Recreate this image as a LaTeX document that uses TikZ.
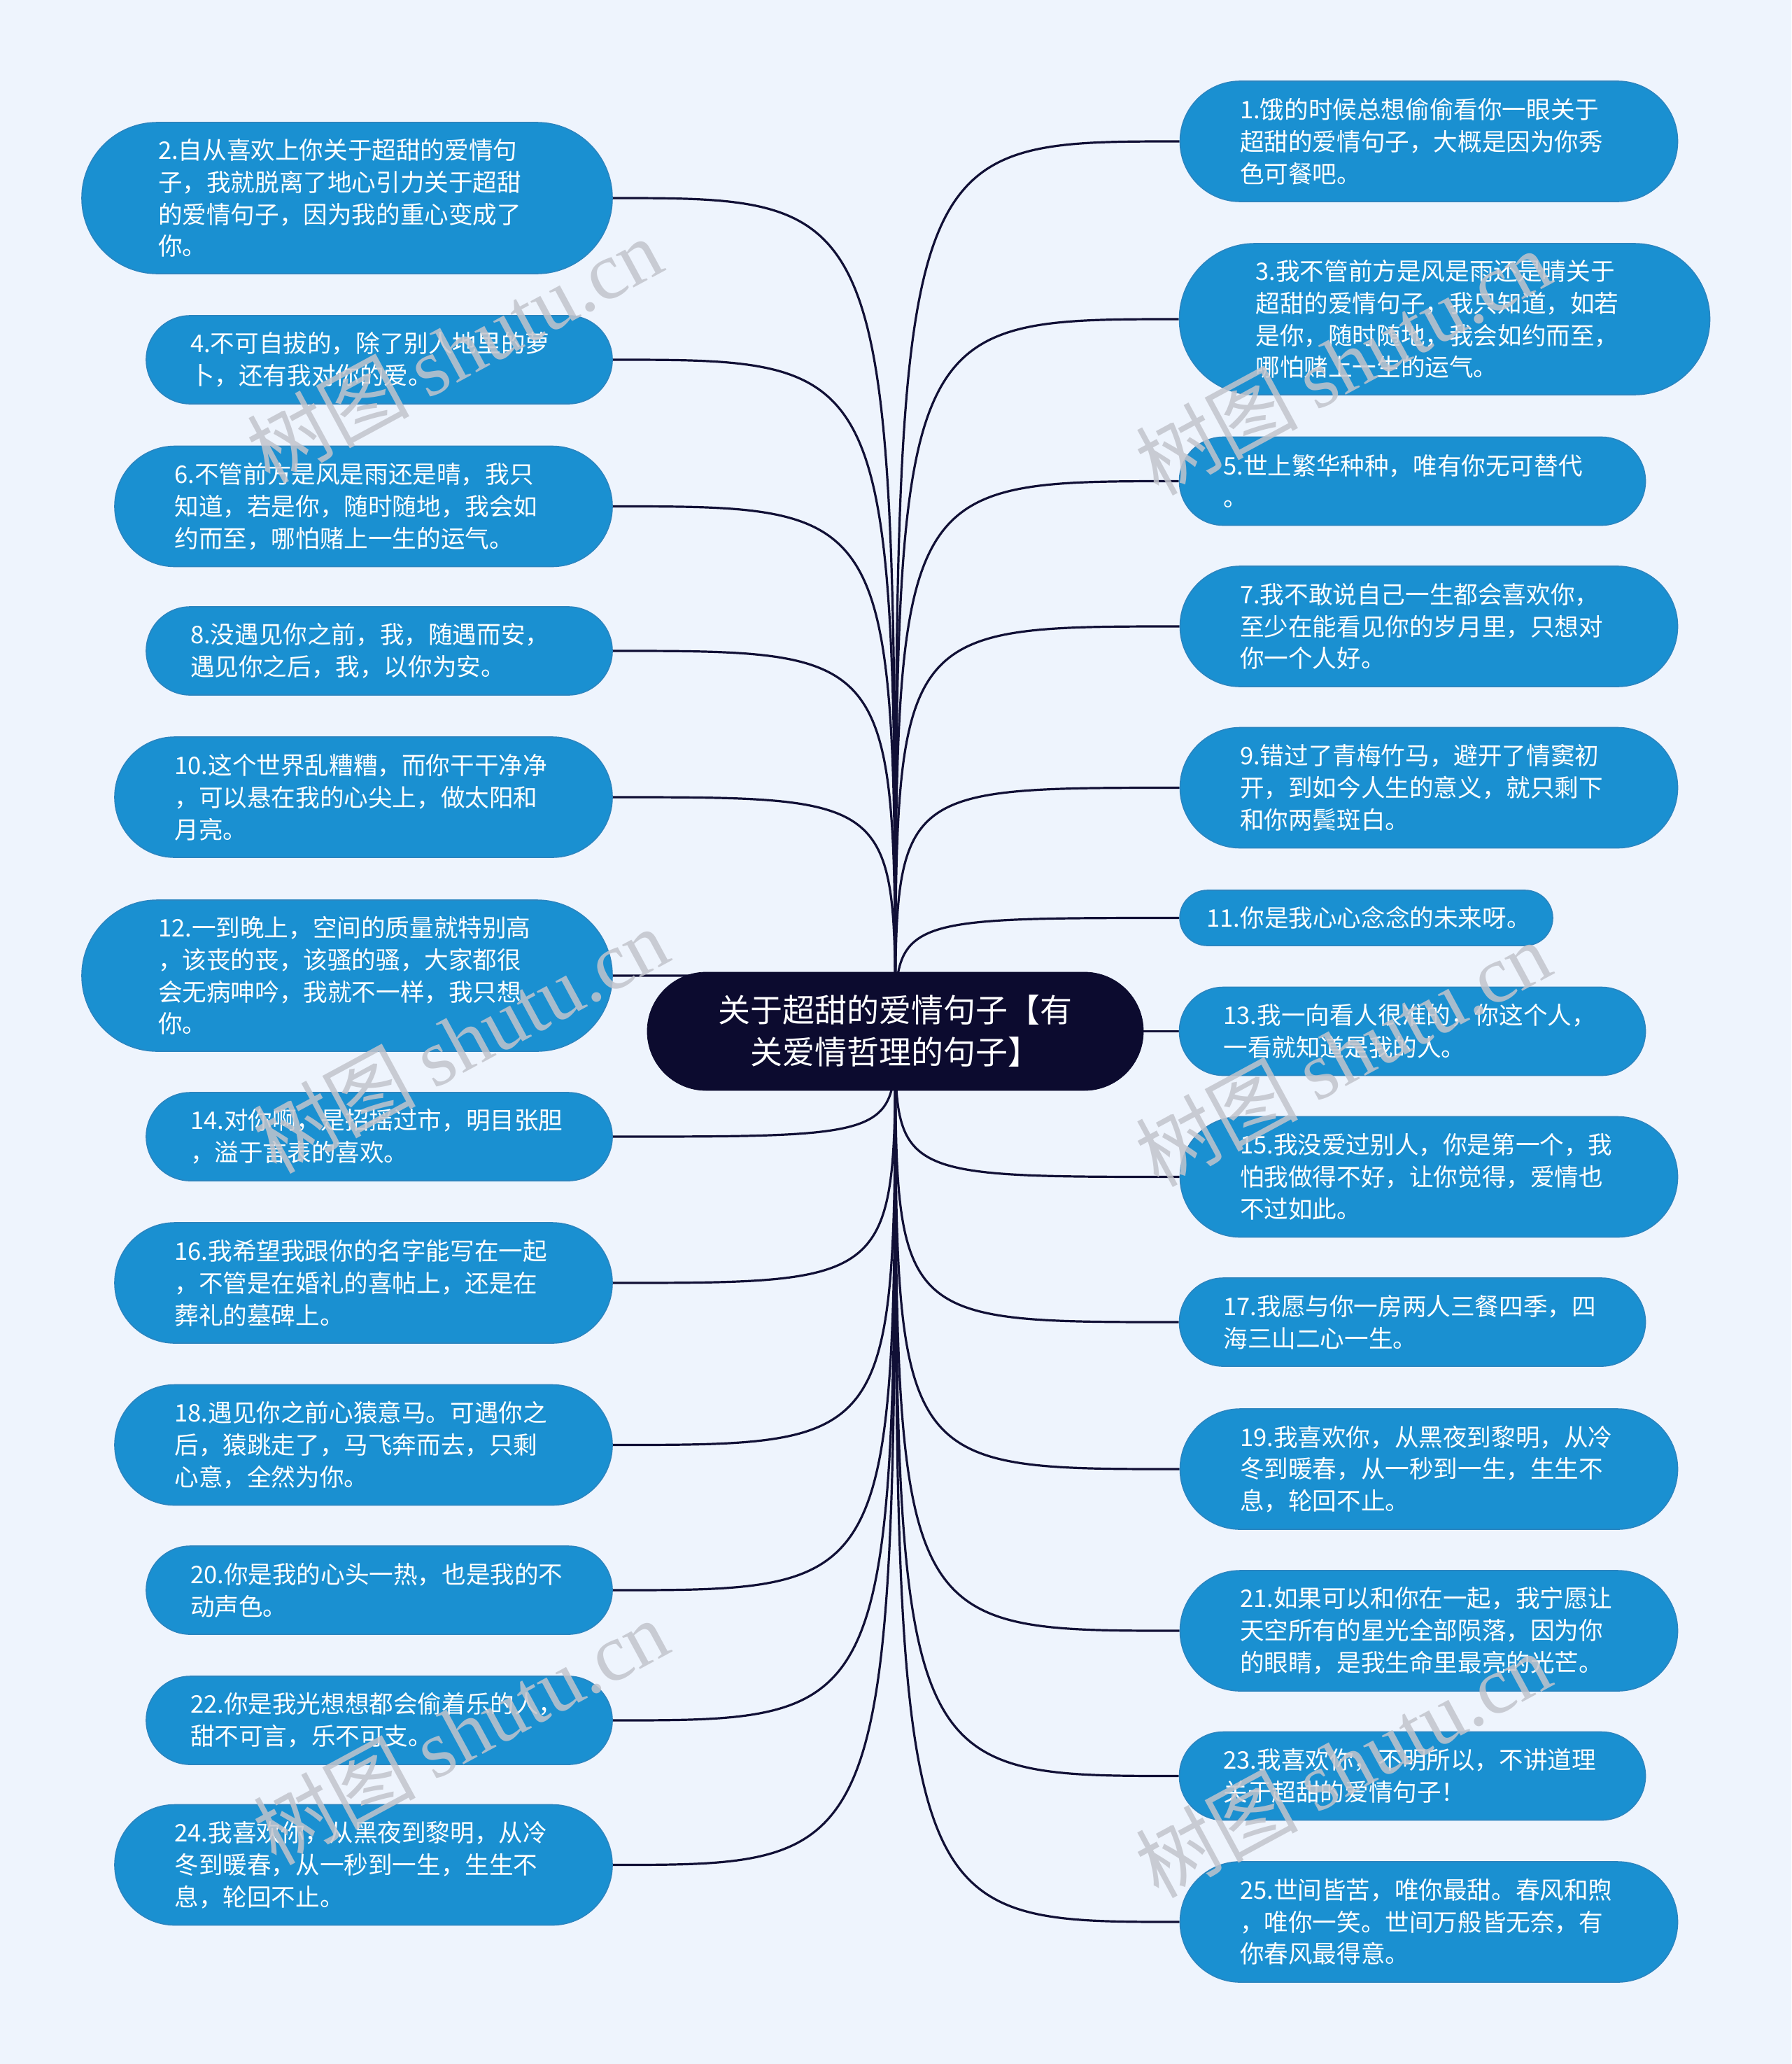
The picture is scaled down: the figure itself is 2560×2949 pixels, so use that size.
\documentclass[tikz,border=0pt]{standalone}
\usepackage{fontspec}
\setmainfont{Noto Sans CJK SC}
\newfontfamily\wmserif{Liberation Serif}
\newfontfamily\wmcjk{Noto Sans CJK SC}
\definecolor{bgc}{HTML}{EEF4FD}
\definecolor{leafc}{HTML}{1A90D1}
\definecolor{leafedge}{HTML}{2A85C0}
\definecolor{rootc}{HTML}{0C0B2F}
\definecolor{linec}{HTML}{111036}
\definecolor{wmc}{HTML}{C2C4CC}
\pgfdeclarelayer{bg}\pgfdeclarelayer{lines}\pgfsetlayers{bg,lines,main}
\begin{document}
\begin{tikzpicture}[x=0.5pt,y=-0.5pt,
 leaf/.style={rectangle, fill=leafc, draw=leafedge, line width=0.8pt, text=white, align=left, text width=270pt, inner sep=0pt, font=\fontsize{17.3}{22.9}\selectfont},
 one/.style={minimum width=266.5pt, minimum height=39.5pt, rounded corners=19.7pt, text width=228pt},
 two/.style={minimum width=333pt, minimum height=63pt, rounded corners=31.4pt},
 three/.style={minimum width=355.5pt, minimum height=86pt, rounded corners=42.9pt},
 four/.style={minimum width=379pt, minimum height=108pt, rounded corners=53.9pt},
 root/.style={rectangle, fill=rootc, draw=rootc, text=white, align=center, inner sep=0pt, minimum width=354.5pt, minimum height=84.5pt, rounded corners=42.2pt, font=\fontsize{23}{30}\selectfont},
 conn/.style={draw=linec, line width=1.6pt},
 wm/.style={text=wmc, opacity=0.85, rotate=28.4, inner sep=0pt, font=\fontsize{58}{58}\selectfont}
]
\begin{pgfonlayer}{bg}
\fill[bgc] (0,0) rectangle (2560,2949);
\end{pgfonlayer}
\useasboundingbox (0,0) rectangle (2560,2949);

\node[root] (root) at (1279.5,1473.5) {关于超甜的爱情句子【有\\关爱情哲理的句子】};

% left column
\node[leaf,four]  (n2)  at (496,283)    {2.自从喜欢上你关于超甜的爱情句\\子，我就脱离了地心引力关于超甜\\的爱情句子，因为我的重心变成了\\你。};
\node[leaf,two]   (n4)  at (542,514)    {4.不可自拔的，除了别人地里的萝\\卜，还有我对你的爱。};
\node[leaf,three] (n6)  at (519.5,723.5){6.不管前方是风是雨还是晴，我只\\知道，若是你，随时随地，我会如\\约而至，哪怕赌上一生的运气。};
\node[leaf,two]   (n8)  at (542,930)    {8.没遇见你之前，我，随遇而安，\\遇见你之后，我，以你为安。};
\node[leaf,three] (n10) at (519.5,1139) {10.这个世界乱糟糟，而你干干净净\\，可以悬在我的心尖上，做太阳和\\月亮。};
\node[leaf,four]  (n12) at (496,1394)   {12.一到晚上，空间的质量就特别高\\，该丧的丧，该骚的骚，大家都很\\会无病呻吟，我就不一样，我只想\\你。};
\node[leaf,two]   (n14) at (542,1624)   {14.对你啊，是招摇过市，明目张胆\\，溢于言表的喜欢。};
\node[leaf,three] (n16) at (519.5,1833) {16.我希望我跟你的名字能写在一起\\，不管是在婚礼的喜帖上，还是在\\葬礼的墓碑上。};
\node[leaf,three] (n18) at (519.5,2064.5){18.遇见你之前心猿意马。可遇你之\\后，猿跳走了，马飞奔而去，只剩\\心意，全然为你。};
\node[leaf,two]   (n20) at (542,2272)   {20.你是我的心头一热，也是我的不\\动声色。};
\node[leaf,two]   (n22) at (542,2458)   {22.你是我光想想都会偷着乐的人，\\甜不可言，乐不可支。};
\node[leaf,three] (n24) at (519.5,2664.5){24.我喜欢你，从黑夜到黎明，从冷\\冬到暖春，从一秒到一生，生生不\\息，轮回不止。};

% right column
\node[leaf,three] (n1)  at (2042,202)    {1.饿的时候总想偷偷看你一眼关于\\超甜的爱情句子，大概是因为你秀\\色可餐吧。};
\node[leaf,four]  (n3)  at (2064.5,456)  {3.我不管前方是风是雨还是晴关于\\超甜的爱情句子，我只知道，如若\\是你，随时随地，我会如约而至，\\哪怕赌上一生的运气。};
\node[leaf,two]   (n5)  at (2018.5,687.5){5.世上繁华种种，唯有你无可替代\\。};
\node[leaf,three] (n7)  at (2042,895)    {7.我不敢说自己一生都会喜欢你，\\至少在能看见你的岁月里，只想对\\你一个人好。};
\node[leaf,three] (n9)  at (2042,1125.5) {9.错过了青梅竹马，避开了情窦初\\开，到如今人生的意义，就只剩下\\和你两鬓斑白。};
\node[leaf,one]   (n11) at (1952.5,1311.5){11.你是我心心念念的未来呀。};
\node[leaf,two]   (n13) at (2018.5,1473.5){13.我一向看人很准的，你这个人，\\一看就知道是我的人。};
\node[leaf,three] (n15) at (2042,1681.5) {15.我没爱过别人，你是第一个，我\\怕我做得不好，让你觉得，爱情也\\不过如此。};
\node[leaf,two]   (n17) at (2018.5,1889) {17.我愿与你一房两人三餐四季，四\\海三山二心一生。};
\node[leaf,three] (n19) at (2042,2099)   {19.我喜欢你，从黑夜到黎明，从冷\\冬到暖春，从一秒到一生，生生不\\息，轮回不止。};
\node[leaf,three] (n21) at (2042,2330)   {21.如果可以和你在一起，我宁愿让\\天空所有的星光全部陨落，因为你\\的眼睛，是我生命里最亮的光芒。};
\node[leaf,two]   (n23) at (2018.5,2537.5){23.我喜欢你，不明所以，不讲道理\\关于超甜的爱情句子！};
\node[leaf,three] (n25) at (2042,2746)   {25.世间皆苦，唯你最甜。春风和煦\\，唯你一笑。世间万般皆无奈，有\\你春风最得意。};

\begin{pgfonlayer}{lines}
\foreach \n in {n2,n4,n6,n8,n10,n12,n14,n16,n18,n20,n22,n24}
  \draw[conn] (root.center) .. controls (root.center |- \n.east) .. (\n.east);
\foreach \n in {n1,n3,n5,n7,n9,n11,n13,n15,n17,n19,n21,n23,n25}
  \draw[conn] (root.center) .. controls (root.center |- \n.west) .. (\n.west);
\end{pgfonlayer}

% watermarks
\node[wm] (w1) at (649,500)   {\wmcjk 树图 \wmserif shutu.cn};
\node[wm] (w2) at (1919,517)  {\wmcjk 树图 \wmserif shutu.cn};
\node[wm] (w3) at (658,1486)  {\wmcjk 树图 \wmserif shutu.cn};
\node[wm] (w4) at (1919,1505) {\wmcjk 树图 \wmserif shutu.cn};
\node[wm] (w5) at (658,2474)  {\wmcjk 树图 \wmserif shutu.cn};
\node[wm] (w6) at (1919,2521) {\wmcjk 树图 \wmserif shutu.cn};
\end{tikzpicture}
\end{document}
